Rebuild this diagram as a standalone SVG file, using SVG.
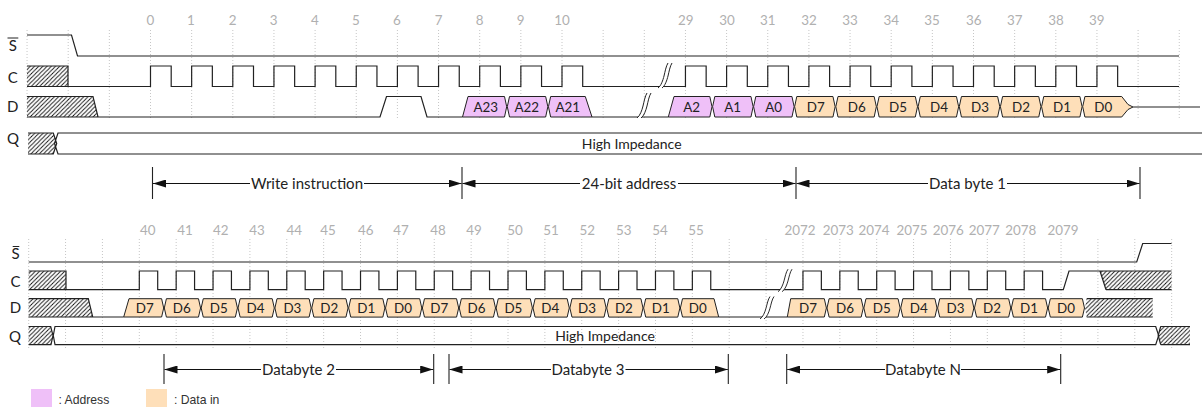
<svg xmlns="http://www.w3.org/2000/svg" xmlns:xlink="http://www.w3.org/1999/xlink" width="1203" height="407" viewBox="0 0 1203 407">
<style>
text{font-family:Lato,"Liberation Sans",sans-serif;fill:#222;font-size:13.4px;text-anchor:middle}
.n{fill:#b0b0b0;font-size:13.4px}
.r{font-size:15px}
.t{font-size:15px}
.z{font-size:14px}
.lg{font-family:"Liberation Sans",Arial,sans-serif;font-size:12.2px;text-anchor:start;fill:#333}
.w{fill:none;stroke:#222;stroke-width:1.2}
.h{fill:url(#hatch)}
.a{fill:#efc0f8;stroke:#222;stroke-width:1}
.d{fill:#fedfb9;stroke:#222;stroke-width:1}
.g{fill:none;stroke:#c6c6c6;stroke-width:1;stroke-dasharray:1 2}
.bar{stroke:#222;stroke-width:1.1;fill:none}
.dim{stroke:#111;stroke-width:1;fill:none}
.dr{marker-end:url(#ah)}
.dl{marker-start:url(#ah)}
.brk{fill:#fff;stroke:none}
.brl{fill:none;stroke:#222;stroke-width:1}
</style>
<defs>
<pattern id="hatch" patternUnits="userSpaceOnUse" width="4.2" height="4.2">
<path d="M-1 1L1-1M0 4.2L4.2 0M3.2 5.2L5.2 3.2" stroke="#111" stroke-width=".9" fill="none"/>
</pattern>
<marker id="ah" markerUnits="userSpaceOnUse" markerWidth="13" markerHeight="8" refX="13" refY="4" orient="auto-start-reverse">
<path d="M0 0L13 4L0 8Z" fill="#111"/>
</marker>
<polygon id="hexT" points="0.3,10.2 2.5,0 38.65,0 40.85,10.2 38.65,20.5 2.5,20.5"/>
<polygon id="hexB" points="0.3,9.3 2.4,0 34.47,0 36.57,9.3 34.47,18.4 2.4,18.4"/>
<g id="brk">
<path class="brk" d="M0 0C3 -2 5 -8 6 -12S8-22 10-25H14C12-22 11-16 10-12S7-2 4 0Z"/>
<path class="brl" d="M0 0C3 -2 5 -8 6 -12S8-22 10-25M4 0C7 -2 9 -8 10 -12S12-22 14-25"/>
</g>
</defs>
<rect width="1203" height="407" fill="#fff"/>
<g id="grid-top">
<path class="g" d="M27.05 30V120M68.2 30V120M109.35 30V120M150.5 30V120M191.65 30V120M232.8 30V120M273.95 30V120M315.1 30V120M356.25 30V120M397.4 30V120M438.55 30V120M479.7 30V120M520.85 30V120M562 30V120M603.15 30V120M644.3 30V120M685.45 30V120M726.6 30V120M767.75 30V120M808.9 30V120M850.05 30V120M891.2 30V120M932.35 30V120M973.5 30V120M1014.65 30V120M1055.8 30V120M1096.95 30V120M1138.1 30V120M1179.25 30V120"/>
</g>
<g id="grid-bottom">
<path class="g" d="M28.69 239V348M65.56 239V348M102.43 239V348M139.3 239V348M176.17 239V348M213.04 239V348M249.91 239V348M286.78 239V348M323.65 239V348M360.52 239V348M397.39 239V348M434.26 239V348M471.13 239V348M508 239V348M544.87 239V348M581.74 239V348M618.61 239V348M655.48 239V348M692.35 239V348M729.22 239V348M766.09 239V348M802.96 239V348M839.83 239V348M876.7 239V348M913.57 239V348M950.44 239V348M987.31 239V348M1024.18 239V348M1061.05 239V348M1097.92 239V348M1134.79 239V348M1171.66 239V348"/>
</g>
<g id="numbers-top">
<text class="n" x="150.5" y="25">0</text><text class="n" x="191" y="25">1</text><text class="n" x="232.7" y="25">2</text><text class="n" x="273.7" y="25">3</text><text class="n" x="315" y="25">4</text><text class="n" x="356" y="25">5</text><text class="n" x="397" y="25">6</text><text class="n" x="438.7" y="25">7</text><text class="n" x="479.7" y="25">8</text><text class="n" x="520.7" y="25">9</text><text class="n" x="562" y="25">10</text><text class="n" x="685.7" y="25">29</text><text class="n" x="727" y="25">30</text><text class="n" x="767.7" y="25">31</text><text class="n" x="809" y="25">32</text><text class="n" x="850" y="25">33</text><text class="n" x="891.3" y="25">34</text><text class="n" x="932" y="25">35</text><text class="n" x="973.7" y="25">36</text><text class="n" x="1014.7" y="25">37</text><text class="n" x="1056" y="25">38</text><text class="n" x="1096.7" y="25">39</text>
</g>
<g id="numbers-bottom">
<text class="n" x="147.7" y="235">40</text><text class="n" x="185" y="235">41</text><text class="n" x="220.7" y="235">42</text><text class="n" x="257" y="235">43</text><text class="n" x="294.3" y="235">44</text><text class="n" x="328" y="235">45</text><text class="n" x="365.7" y="235">46</text><text class="n" x="401" y="235">47</text><text class="n" x="438" y="235">48</text><text class="n" x="474" y="235">49</text><text class="n" x="515" y="235">50</text><text class="n" x="551" y="235">51</text><text class="n" x="587.3" y="235">52</text><text class="n" x="623.7" y="235">53</text><text class="n" x="660" y="235">54</text><text class="n" x="696" y="235">55</text><text class="n" x="800" y="235">2072</text><text class="n" x="838.3" y="235">2073</text><text class="n" x="874" y="235">2074</text><text class="n" x="912" y="235">2075</text><text class="n" x="948.3" y="235">2076</text><text class="n" x="984.3" y="235">2077</text><text class="n" x="1020.7" y="235">2078</text><text class="n" x="1063" y="235">2079</text>
</g>
<g id="labels">
<path class="bar" d="M7.5 38H18.3M12.7 246.5H19.3"/>
<text class="r" x="12.7" y="51.4">S</text>
<text class="r" x="12.7" y="82.9">C</text>
<text class="r" x="12.7" y="112.4">D</text>
<text class="r" x="13" y="144">Q</text>
<text class="r" x="15.5" y="259">S</text>
<text class="r" x="15.5" y="287.4">C</text>
<text class="r" x="15.5" y="313.4">D</text>
<text class="r" x="15" y="342">Q</text>
</g>
<g id="top-S"><path class="w" d="M27 35H71.5L77.5 56H1179"/></g>
<g id="top-C">
<rect class="h" x="27" y="66" width="41" height="20.5"/>
<path class="w" d="M27 66H68V86.5H150.5V66h20.7V86.5H191.65V66h20.7V86.5H232.8V66h20.7V86.5H273.95V66h20.7V86.5H315.1V66h20.7V86.5H356.25V66h20.7V86.5H397.4V66h20.7V86.5H438.55V66h20.7V86.5H479.7V66h20.7V86.5H520.85V66h20.7V86.5H562V66h20.7V86.5H685.45V66h20.7V86.5H726.6V66h20.7V86.5H767.75V66h20.7V86.5H808.9V66h20.7V86.5H850.05V66h20.7V86.5H891.2V66h20.7V86.5H932.35V66h20.7V86.5H973.5V66h20.7V86.5H1014.65V66h20.7V86.5H1055.8V66h20.7V86.5H1096.95V66h20.7V86.5H1179"/>
<path class="w" d="M27 86.5H68"/>
<use href="#brk" xlink:href="#brk" transform="translate(658 88)"/>
</g>
<g id="top-D">
<polygon class="h" points="27,96.5 93,96.5 98,117 27,117"/>
<path class="w" d="M27 96.5H93L98 117H380L386.5 96.5H421L427 117H462.5M592 117H668.3M1133 107H1200M27 117H98"/>
<use href="#brk" xlink:href="#brk" transform="translate(637 118)"/>
</g>
<g id="top-A23"><polygon class="a" points="462.5,117 468,96.5 504.5,96.5 506.7,106.7 504.5,117"/><text x="485.7" y="111.7">A23</text></g>
<g id="top-A22"><use href="#hexT" xlink:href="#hexT" class="a" x="507" y="96.5"/><text x="526.7" y="111.7">A22</text></g>
<g id="top-A21"><polygon class="a" points="548.45,106.7 550.65,96.5 585.3,96.5 592,117 550.65,117"/><text x="567.7" y="111.7">A21</text></g>
<g id="top-A2"><polygon class="a" points="668.3,117 674,96.5 709.8,96.5 712,106.7 709.8,117"/><text x="691.7" y="111.7">A2</text></g>
<g id="top-A1"><use href="#hexT" xlink:href="#hexT" class="a" x="712.3" y="96.5"/><text x="732.7" y="111.7">A1</text></g>
<g id="top-A0"><use href="#hexT" xlink:href="#hexT" class="a" x="753.3" y="96.5"/><text x="773.7" y="111.7">A0</text></g>
<g id="top-D7"><use href="#hexT" xlink:href="#hexT" class="d" x="794.3" y="96.5"/><text x="815.7" y="111.7">D7</text></g>
<g id="top-D6"><use href="#hexT" xlink:href="#hexT" class="d" x="835.5" y="96.5"/><text x="856.8" y="111.7">D6</text></g>
<g id="top-D5"><use href="#hexT" xlink:href="#hexT" class="d" x="876.65" y="96.5"/><text x="898" y="111.7">D5</text></g>
<g id="top-D4"><use href="#hexT" xlink:href="#hexT" class="d" x="917.8" y="96.5"/><text x="939" y="111.7">D4</text></g>
<g id="top-D3"><use href="#hexT" xlink:href="#hexT" class="d" x="958.95" y="96.5"/><text x="980" y="111.7">D3</text></g>
<g id="top-D2"><use href="#hexT" xlink:href="#hexT" class="d" x="1000.1" y="96.5"/><text x="1021" y="111.7">D2</text></g>
<g id="top-D1"><use href="#hexT" xlink:href="#hexT" class="d" x="1041.25" y="96.5"/><text x="1062" y="111.7">D1</text></g>
<g id="top-D0"><polygon class="d" points="1082.7,106.7 1084.9,96.5 1121.7,96.5 1128,104.5 1133,107 1128,109.5 1121.7,117 1084.9,117"/><text x="1103.3" y="111.7">D0</text></g>
<g id="top-Q">
<polygon class="h" points="28,133 53.3,133 56.7,143.5 53.3,154 28,154"/>
<path class="w" d="M28 133H53.3L56.7 143.5L53.3 154H28M1202 133H58L54.5 143.5L58 154H1202"/>
<text class="z" x="631.7" y="149">High Impedance</text>
</g>
<g id="bottom-S"><path class="w" d="M28.7 262H1136.7L1142.7 243.5H1171.5"/></g>
<g id="bottom-C">
<rect class="h" x="28.7" y="271" width="37.3" height="18.7"/>
<polygon class="h" points="1100,271 1171.5,271 1171.5,289.7 1106,289.7"/>
<path class="w" d="M28.7 271H66V289.7H139.3V271h18.4V289.7H176.17V271h18.4V289.7H213.04V271h18.4V289.7H249.91V271h18.4V289.7H286.78V271h18.4V289.7H323.65V271h18.4V289.7H360.52V271h18.4V289.7H397.39V271h18.4V289.7H434.26V271h18.4V289.7H471.13V271h18.4V289.7H508V271h18.4V289.7H544.87V271h18.4V289.7H581.74V271h18.4V289.7H618.61V271h18.4V289.7H655.48V271h18.4V289.7H692.35V271h18.4V289.7H802.96V271h18.4V289.7H839.83V271h18.4V289.7H876.7V271h18.4V289.7H913.57V271h18.4V289.7H950.44V271h18.4V289.7H987.31V271h18.4V289.7H1024.18V271h18.4V289.7H1063.3L1069 271H1171.5M1106 289.7H1171.5M1100 271L1106 289.7M28.7 289.7H66"/>
<use href="#brk" xlink:href="#brk" transform="translate(778 291.7) scale(1 .9)"/>
</g>
<g id="bottom-D">
<polygon class="h" points="28.7,298.7 88.3,298.7 92.7,317 28.7,317"/>
<polygon class="h" points="1085,308 1086.7,298.7 1152.7,298.7 1152.7,317 1086.7,317"/>
<path class="w" d="M28.7 298.7H88.3L92.7 317H123.7M28.7 317H92.7M718.7 317H787.3M1086.7 298.7H1152.7M1086.7 317H1152.7"/>
<use href="#brk" xlink:href="#brk" transform="translate(760 319) scale(1 .9)"/>
</g>
<g id="bottom-D7-1"><polygon class="d" points="123.7,317 129,298.7 161.6,298.7 163.7,308 161.6,317"/><text x="144.7" y="312.7">D7</text></g>
<g id="bottom-D6-1"><use href="#hexB" xlink:href="#hexB" class="d" x="164" y="298.7"/><text x="181.7" y="312.7">D6</text></g>
<g id="bottom-D5-1"><use href="#hexB" xlink:href="#hexB" class="d" x="200.87" y="298.7"/><text x="218.7" y="312.7">D5</text></g>
<g id="bottom-D4-1"><use href="#hexB" xlink:href="#hexB" class="d" x="237.74" y="298.7"/><text x="255.6" y="312.7">D4</text></g>
<g id="bottom-D3-1"><use href="#hexB" xlink:href="#hexB" class="d" x="274.61" y="298.7"/><text x="292.4" y="312.7">D3</text></g>
<g id="bottom-D2-1"><use href="#hexB" xlink:href="#hexB" class="d" x="311.48" y="298.7"/><text x="329.3" y="312.7">D2</text></g>
<g id="bottom-D1-1"><use href="#hexB" xlink:href="#hexB" class="d" x="348.35" y="298.7"/><text x="366.2" y="312.7">D1</text></g>
<g id="bottom-D0-1"><use href="#hexB" xlink:href="#hexB" class="d" x="385.22" y="298.7"/><text x="403" y="312.7">D0</text></g>
<g id="bottom-D7-2"><use href="#hexB" xlink:href="#hexB" class="d" x="422.09" y="298.7"/><text x="439.3" y="312.7">D7</text></g>
<g id="bottom-D6-2"><use href="#hexB" xlink:href="#hexB" class="d" x="458.96" y="298.7"/><text x="476.5" y="312.7">D6</text></g>
<g id="bottom-D5-2"><use href="#hexB" xlink:href="#hexB" class="d" x="495.83" y="298.7"/><text x="513.4" y="312.7">D5</text></g>
<g id="bottom-D4-2"><use href="#hexB" xlink:href="#hexB" class="d" x="532.7" y="298.7"/><text x="550.2" y="312.7">D4</text></g>
<g id="bottom-D3-2"><use href="#hexB" xlink:href="#hexB" class="d" x="569.57" y="298.7"/><text x="587" y="312.7">D3</text></g>
<g id="bottom-D2-2"><use href="#hexB" xlink:href="#hexB" class="d" x="606.44" y="298.7"/><text x="623.9" y="312.7">D2</text></g>
<g id="bottom-D1-2"><use href="#hexB" xlink:href="#hexB" class="d" x="643.31" y="298.7"/><text x="660.8" y="312.7">D1</text></g>
<g id="bottom-D0-2"><polygon class="d" points="680.4,308 682.5,298.7 714,298.7 718.7,317 682.5,317"/><text x="697.7" y="312.7">D0</text></g>
<g id="bottom-D7-3"><polygon class="d" points="787.3,317 790.7,298.7 824.3,298.7 826.4,308 824.3,317"/><text x="808" y="312.7">D7</text></g>
<g id="bottom-D6-3"><use href="#hexB" xlink:href="#hexB" class="d" x="826.7" y="298.7"/><text x="845" y="312.7">D6</text></g>
<g id="bottom-D5-3"><use href="#hexB" xlink:href="#hexB" class="d" x="863.57" y="298.7"/><text x="881.7" y="312.7">D5</text></g>
<g id="bottom-D4-3"><use href="#hexB" xlink:href="#hexB" class="d" x="900.44" y="298.7"/><text x="918.7" y="312.7">D4</text></g>
<g id="bottom-D3-3"><use href="#hexB" xlink:href="#hexB" class="d" x="937.31" y="298.7"/><text x="955.5" y="312.7">D3</text></g>
<g id="bottom-D2-3"><use href="#hexB" xlink:href="#hexB" class="d" x="974.18" y="298.7"/><text x="992" y="312.7">D2</text></g>
<g id="bottom-D1-3"><use href="#hexB" xlink:href="#hexB" class="d" x="1011.05" y="298.7"/><text x="1029" y="312.7">D1</text></g>
<g id="bottom-D0-3"><use href="#hexB" xlink:href="#hexB" class="d" x="1047.92" y="298.7"/><text x="1066" y="312.7">D0</text></g>
<g id="bottom-Q">
<polygon class="h" points="28.7,326.5 50.7,326.5 53,335.5 51,344.7 28.7,344.7"/>
<polygon class="h" points="1158.7,335.5 1160.7,326.5 1190,326.5 1190,344.7 1160.7,344.7"/>
<path class="w" d="M28.7 326.5H50.7L53 335.5L51 344.7H28.7M55 326.5H1155.7L1158.7 335.5L1155.7 344.7H55L53.3 335.5Z"/>
<path class="w" d="M1160.7 326.5H1190M1160.7 344.7H1190M1160.7 326.5L1158.2 335.5L1160.7 344.7"/>
<text class="z" x="605" y="341">High Impedance</text>
</g>
<g id="connectors">
<path class="bar" d="M152.5 167V199M462 167V199M796 167V199M1140 167V199M164 354V384M433.7 354V384M449 354V384M728.3 354V384M786.7 354V384M1060.7 354V384"/>
<path class="dim dl" d="M153 183.5H250"/><path class="dim dr" d="M364 183.5H461.5"/>
<path class="dim dl" d="M462.5 183.5H580"/><path class="dim dr" d="M678 183.5H795.5"/>
<path class="dim dl" d="M796.5 183.5H928"/><path class="dim dr" d="M1007 183.5H1139.5"/>
<path class="dim dl" d="M164.5 369.5H261"/><path class="dim dr" d="M336 369.5H433.2"/>
<path class="dim dl" d="M449.5 369.5H551"/><path class="dim dr" d="M625.5 369.5H727.8"/>
<path class="dim dl" d="M787.2 369.5H885"/><path class="dim dr" d="M961 369.5H1060.2"/>
</g>
<g id="dim-labels">
<text class="t" x="307" y="188.9">Write instruction</text>
<text class="t" x="629" y="188.9">24-bit address</text>
<text class="t" x="967.5" y="188.9">Data byte 1</text>
<text class="t" x="298.5" y="374.9">Databyte 2</text>
<text class="t" x="588" y="374.9">Databyte 3</text>
<text class="t" x="923" y="374.9">Databyte N</text>
</g>
<g id="legend-address"><rect x="31" y="389" width="21" height="18" fill="#efc0f8"/><text class="lg" x="58.5" y="403.5">: Address</text></g>
<g id="legend-data"><rect x="146" y="389" width="21" height="18" fill="#fedfb9"/><text class="lg" x="174" y="403.5">: Data in</text></g>
</svg>
